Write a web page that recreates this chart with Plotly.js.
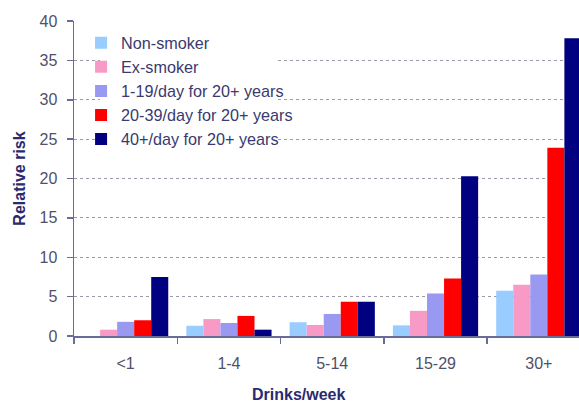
<!DOCTYPE html>
<html>
<head>
<meta charset="utf-8">
<script src="https://cdn.plot.ly/plotly-3.0.1.min.js"></script>
<style>html,body{margin:0;padding:0;background:#fff;}#chart{width:579px;height:405px;}</style>
</head>
<body>
<div id="chart"></div>
<script>
const categories = ["<1", "1-4", "5-14", "15-29", "30+"];
const seriesNames = ["Non-smoker", "Ex-smoker", "1-19/day for 20+ years", "20-39/day for 20+ years", "40+/day for 20+ years"];
const nonSmoker = [null, 1.3, 1.75, 1.35, 5.75];
const exSmoker = [0.8, 2.15, 1.4, 3.2, 6.5];
const light = [1.8, 1.65, 2.8, 5.4, 7.8];
const moderate = [2.0, 2.55, 4.35, 7.3, 23.9];
const heavy = [7.5, 0.8, 4.35, 20.3, 37.8];
const seriesColors = ["#99ccff", "#f79bc6", "#9999f2", "#ff0000", "#000080"];
const yTicks = [0, 5, 10, 15, 20, 25, 30, 35, 40];

const allValues = [nonSmoker, exSmoker, light, moderate, heavy];
const traces = allValues.map((vals, i) => ({
  type: "bar",
  name: seriesNames[i],
  x: categories,
  y: vals,
  marker: {color: seriesColors[i], line: {width: 0}},
  legendgroup: "g" + i,
  hoverinfo: "none"
}));

const axisColor = "#6b6b99";
const tickFont = {family: "Liberation Sans, Arial, sans-serif", size: 16, color: "#505068"};
const titleFont = {family: "Liberation Sans, Arial, sans-serif", size: 16, color: "#2a2a6e", weight: "bold"};

const layout = {
  width: 579, height: 405,
  margin: {l: 74, r: 0, t: 21, b: 69},
  paper_bgcolor: "#ffffff", plot_bgcolor: "#ffffff",
  barmode: "group", bargap: 0.175, bargroupgap: 0,
  showlegend: true,
  legend: {
    x: 0.014, y: 0.985, xanchor: "left", yanchor: "top",
    bgcolor: "rgba(0,0,0,0)", borderwidth: 0,
    font: {family: "Liberation Sans, Arial, sans-serif", size: 16.2, color: "#3a3a6e"},
    tracegroupgap: 0, itemclick: false
  },
  xaxis: {
    type: "category", range: [-0.5, 4.389],
    tickson: "boundaries", ticks: "outside", ticklen: 6, tickcolor: axisColor, tickwidth: 1.5,
    showline: true, linecolor: axisColor, linewidth: 1.5,
    showgrid: false, zeroline: false,
    tickfont: tickFont, ticklabelstandoff: 12
  },
  yaxis: {
    range: [0, 40], tickvals: yTicks, ticktext: yTicks.map(String),
    ticks: "outside", ticklen: 6, tickcolor: axisColor, tickwidth: 1.5,
    showline: true, linecolor: axisColor, linewidth: 1.5,
    showgrid: true, gridcolor: "#9a9aa6", gridwidth: 1.2, griddash: "dot",
    zeroline: false,
    tickfont: tickFont, ticklabelstandoff: 6,
    title: {text: "Relative risk", font: titleFont, standoff: 10}
  },
  shapes: [{
    type: "rect", xref: "paper", yref: "paper",
    x0: 0.0515, x1: 0.402, y0: 0.59, y1: 0.975,
    fillcolor: "#ffffff", line: {width: 0}, layer: "above"
  }],
  annotations: [{
    text: "Drinks/week", xref: "paper", yref: "paper",
    x: 0.4436, y: -0.185, xanchor: "center", yanchor: "middle",
    showarrow: false, font: titleFont
  }]
};

Plotly.newPlot("chart", traces, layout, {staticPlot: true, displayModeBar: false});
</script>
</body>
</html>
